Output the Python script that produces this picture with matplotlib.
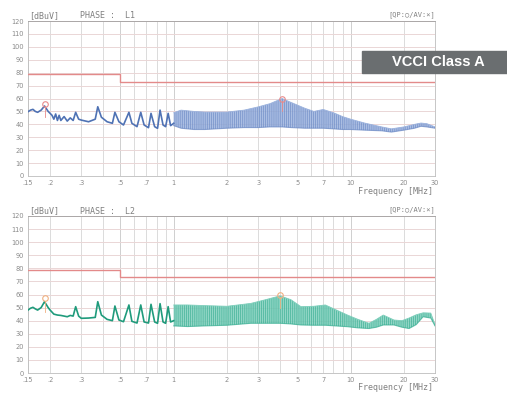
import numpy as np
import matplotlib.pyplot as plt
from matplotlib.patches import Rectangle

W, H = 507, 396

# VCCI Class A quasi-peak limit
limit_freq = [0.15, 0.5, 0.5, 30]
limit_qp = [79, 79, 73, 73]

# ---- phase L1 ----
l1_freq = [0.15, 0.155, 0.16, 0.165, 0.17, 0.178, 0.186, 0.195, 0.2, 0.205, 0.21, 0.215,
           0.22, 0.225, 0.23, 0.24, 0.25, 0.26, 0.27, 0.279, 0.29, 0.3, 0.33, 0.36, 0.372,
           0.39, 0.42, 0.45, 0.465, 0.49, 0.52, 0.558, 0.58, 0.62, 0.651, 0.68, 0.72,
           0.744, 0.78, 0.81, 0.837, 0.87, 0.9, 0.93, 0.96, 1.0]
l1_level = [49.8, 51, 51.6, 50, 49.3, 51, 54.2, 50, 48.5, 47, 44, 48,
            43, 47, 43, 46, 42.5, 45, 43, 49.3, 44, 43.3, 42, 44, 53.6,
            45.5, 42, 40.8, 49.3, 42, 39.5, 49.3, 40.8, 38.2, 49.3, 39.5, 37.4,
            48.5, 38.2, 36.9, 51, 39.5, 38.2, 48.5, 39, 40.8]
l1_band_freq = [1.0, 1.1, 1.3, 1.5, 2.0, 2.5, 3.0, 3.5, 4.1, 4.6, 5.5, 6.2, 7.0, 8.0,
                9.0, 10, 12, 15, 17, 20, 23, 25, 27, 30]
l1_band_top = [49, 51, 50, 49.5, 49.5, 51, 53.5, 56, 60, 57, 52.5, 50, 51.5, 49,
               46, 44, 41, 38, 36.5, 38, 40, 41, 40.5, 38]
l1_band_bot = [39, 37, 36, 36, 37, 37.5, 37.5, 38, 38, 37.5, 37, 37, 37, 36.5,
               36, 36, 35.5, 35, 34, 35.5, 37, 38.5, 38, 37]
l1_mark_freq = [0.186, 4.1]
l1_mark_level = [56, 60]

# ---- phase L2 ----
l2_freq = [0.15, 0.155, 0.16, 0.165, 0.17, 0.178, 0.186, 0.195, 0.2, 0.21, 0.22, 0.23,
           0.24, 0.25, 0.26, 0.27, 0.279, 0.29, 0.3, 0.33, 0.36, 0.372, 0.39, 0.42, 0.45,
           0.465, 0.49, 0.52, 0.558, 0.58, 0.62, 0.651, 0.68, 0.72, 0.744, 0.78, 0.81,
           0.837, 0.87, 0.9, 0.93, 0.96, 1.0]
l2_level = [48.1, 49.5, 50.2, 49, 48.1, 50, 54.5, 50, 48.1, 45, 44.3, 44,
            43.5, 43, 44, 43.5, 50.7, 43.5, 41.8, 42, 42.5, 54.5, 44.3, 41, 40,
            51.2, 40.5, 39.2, 52, 39.5, 38.2, 52, 39, 38.2, 52.5, 39, 38,
            53, 39, 38, 50.7, 39, 40]
l2_band_freq = [1.0, 1.2, 1.5, 2.0, 2.73, 3.3, 4.0, 4.6, 5.24, 6.2, 7.2, 8.2, 9.6,
                11, 12.7, 14, 15.3, 17.6, 19.5, 21.4, 23.5, 25.7, 28.4, 30]
l2_band_top = [52, 52, 51.5, 51, 53.2, 56, 59, 56, 50.7, 51, 52, 48.5, 44.3,
               41, 38, 41, 44.3, 40.5, 40, 42, 44.5, 46, 45.8, 37]
l2_band_bot = [36, 35.5, 36, 36.5, 38, 38, 38, 37.5, 36.7, 36.5, 36.5, 36, 35.4,
               34.5, 34, 35, 36.7, 36.7, 35, 34, 37, 43, 42, 36]
l2_mark_freq = [0.186, 4.0]
l2_mark_level = [57, 60]

major_ticks = [0.15, 0.2, 0.3, 0.5, 0.7, 1, 2, 3, 5, 7, 10, 20, 30]
major_labels = ['.15', '.2', '.3', '.5', '.7', '1', '2', '3', '5', '7', '10', '20', '30']
minor_ticks = [0.4, 0.6, 0.8, 0.9, 4, 6, 8, 9]

plt.rcParams['hatch.linewidth'] = 0.5

fig = plt.figure(figsize=(W / 100, H / 100), dpi=100)
fig.patch.set_facecolor('white')


def px(x, y):
    return x / W, 1 - y / H


def draw_panel(rect, phase, freq, level, bfreq, btop, bbot, mfreq, mlevel,
               dark, light, streak, mark_color, top_px, freq_px):
    ax = fig.add_axes(rect)
    ax.set_xscale('log')
    ax.set_xlim(0.15, 30)
    ax.set_ylim(0, 120)
    ax.set_yticks(range(0, 121, 10))
    ax.set_xticks(major_ticks)
    ax.set_xticklabels(major_labels)
    ax.set_xticks(minor_ticks, minor=True)
    ax.tick_params(which='both', length=0, labelsize=4.8, colors='#8a8a8a', pad=3)
    ax.grid(axis='y', color='#ead6d6', lw=0.7)
    ax.grid(axis='x', which='both', color='#d6d6d6', lw=0.6)
    for f in [0.5, 1, 10]:
        ax.axvline(f, color='#b0b0b0', lw=0.7, zorder=1)
    for s in ax.spines.values():
        s.set_color('#bdbdbd')
        s.set_linewidth(0.6)
    ax.spines['top'].set_color('#a0a0a0')

    ax.plot(limit_freq, limit_qp, color='#e38a8a', lw=1.0, zorder=3)

    # dense harmonic region: light band with vertical streaks
    ax.fill_between(bfreq, bbot, btop, facecolor=light, edgecolor=streak,
                    hatch='||||||||', lw=0, alpha=0.85, zorder=4)
    ax.plot(bfreq, btop, color=light, lw=0.6, zorder=4)
    ax.plot(bfreq, bbot, color=streak, lw=0.8, alpha=0.7, zorder=4)
    ax.plot(freq, level, color=dark, lw=1.2, zorder=5)
    ax.plot(mfreq, mlevel, 'o', ms=4, mfc='none', mec=mark_color, mew=0.8, zorder=6)
    for f, v in zip(mfreq, mlevel):
        ax.plot([f, f], [v - 10, v - 2], color=mark_color, lw=0.6, zorder=6)

    fig.text(*px(29, top_px), '[dBuV]', fontsize=6, color='#808080',
             family='DejaVu Sans Mono', va='center')
    fig.text(*px(80, top_px), 'PHASE :  ' + phase, fontsize=6, color='#808080',
             family='DejaVu Sans Mono', va='center')
    fig.text(*px(435, top_px - 1), '[QP:○/AV:×]', fontsize=5, color='#808080',
             family='DejaVu Sans Mono', va='center', ha='right')
    fig.text(*px(433, freq_px), 'Frequency [MHz]', fontsize=6, color='#808080',
             family='DejaVu Sans Mono', va='center', ha='right')
    return ax


x0, x1 = 28, 435
draw_panel([x0 / W, 1 - 176 / H, (x1 - x0) / W, 155 / H], 'L1',
           l1_freq, l1_level, l1_band_freq, l1_band_top, l1_band_bot,
           l1_mark_freq, l1_mark_level, '#4f72b4', '#9cb3de', '#6a88c4',
           '#e88a8a', 16, 192)
draw_panel([x0 / W, 1 - 373 / H, (x1 - x0) / W, 157 / H], 'L2',
           l2_freq, l2_level, l2_band_freq, l2_band_top, l2_band_bot,
           l2_mark_freq, l2_mark_level, '#1f9b7c', '#7fcfbc', '#35ad91',
           '#f0b080', 211, 387)

# label box
fig.patches.append(Rectangle(px(362, 73), (507 - 362) / W, 22 / H,
                             transform=fig.transFigure, color='#6a6e70', zorder=0))
fig.text(*px(438, 62), 'VCCI Class A', fontsize=10.5, color='white', weight='bold',
         family='Liberation Sans', ha='center', va='center')

fig.savefig('out.png', dpi=100, facecolor='white')
